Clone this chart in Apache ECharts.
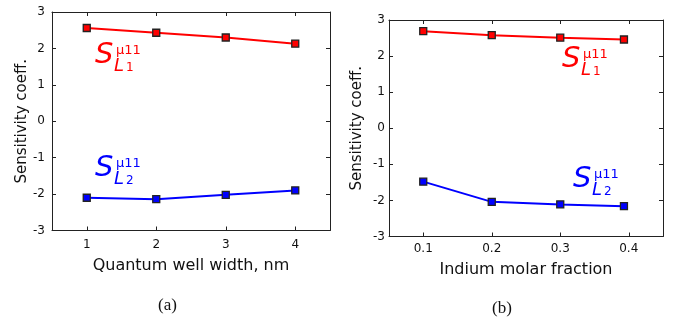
<!DOCTYPE html>
<html>
<head>
<meta charset="utf-8">
<script src="https://cdn.jsdelivr.net/npm/echarts@6/dist/echarts.min.js"></script>
<style>
  html, body { margin: 0; padding: 0; background: #fff; }
  #chart { width: 675px; height: 323px; }
</style>
</head>
<body>
<div id="chart"></div>
<script>
// Panel (a): sensitivity vs quantum well width
const wellWidth = [1, 2, 3, 4];
const wellS_L1 = [2.56, 2.43, 2.30, 2.13];
const wellS_L2 = [-2.10, -2.14, -2.02, -1.90];

// Panel (b): sensitivity vs indium molar fraction
const indiumFraction = [0.1, 0.2, 0.3, 0.393];
const indiumS_L1 = [2.69, 2.58, 2.51, 2.46];
const indiumS_L2 = [-1.48, -2.04, -2.11, -2.16];

// Tick values
const sensTicks = [-3, -2, -1, 0, 1, 2, 3];
const wellTicks = [1, 2, 3, 4];
const indiumTicks = [0.1, 0.2, 0.3, 0.4];

const FONT = '"DejaVu Sans", Verdana, sans-serif';
const AXIS_COLOR = '#222';
const RED = '#ff0000';
const BLUE = '#0000ff';

const chart = echarts.init(document.getElementById('chart'), null, { renderer: 'canvas' });

function xAxisPair(gridIndex, min, max, ticks, name, labelMargin, nameGap, fmt) {
  const common = {
    type: 'value', gridIndex, min, max,
    axisLine: { show: true, onZero: false, lineStyle: { color: AXIS_COLOR, width: 1 } },
    splitLine: { show: false }
  };
  return [
    Object.assign({}, common, {
      position: 'bottom',
      name, nameLocation: 'middle', nameGap,
      nameTextStyle: { fontFamily: FONT, fontSize: 16, color: '#111' },
      axisTick: { show: true, inside: true, length: 4, customValues: ticks, lineStyle: { color: AXIS_COLOR } },
      axisLabel: { show: true, customValues: ticks, margin: labelMargin, fontFamily: FONT, fontSize: 12, color: '#111', formatter: fmt }
    }),
    Object.assign({}, common, {
      position: 'top',
      axisTick: { show: true, inside: true, length: 4, customValues: ticks, lineStyle: { color: AXIS_COLOR } },
      axisLabel: { show: false }
    })
  ];
}

function yAxisPair(gridIndex, labelMargin, nameGap) {
  const common = {
    type: 'value', gridIndex, min: -3, max: 3,
    axisLine: { show: true, onZero: false, lineStyle: { color: AXIS_COLOR, width: 1 } },
    splitLine: { show: false }
  };
  return [
    Object.assign({}, common, {
      position: 'left',
      name: 'Sensitivity coeff.', nameLocation: 'middle', nameGap, nameRotate: 90,
      nameTextStyle: { fontFamily: FONT, fontSize: 15, color: '#111' },
      axisTick: { show: true, inside: true, length: 4, customValues: sensTicks, lineStyle: { color: AXIS_COLOR } },
      axisLabel: { show: true, customValues: sensTicks, margin: labelMargin, fontFamily: FONT, fontSize: 12, color: '#111' }
    }),
    Object.assign({}, common, {
      position: 'right',
      axisTick: { show: true, inside: true, length: 4, customValues: sensTicks, lineStyle: { color: AXIS_COLOR } },
      axisLabel: { show: false }
    })
  ];
}

function lineSeries(xs, ys, color, xi, yi) {
  return {
    type: 'line',
    xAxisIndex: xi, yAxisIndex: yi,
    data: xs.map((x, i) => [x, ys[i]]),
    symbol: 'rect', symbolSize: 7,
    lineStyle: { color, width: 2 },
    itemStyle: { color, borderColor: '#222', borderWidth: 1.3 },
    emphasis: { disabled: true },
    z: 3
  };
}

// S^{mu11}_{L_k} label built from four text pieces
function sensLabel(left, cy, sub, color) {
  const t = (x, y, text, font) => ({
    type: 'text', x, y, silent: true,
    style: { text, font, fill: color, align: 'left', verticalAlign: 'middle' }
  });
  return [
    t(left, cy, 'S', 'italic 29px ' + FONT),
    t(left + 21, cy - 4, 'μ11', '13px ' + FONT),
    t(left + 19, cy + 11, 'L', 'italic 18px ' + FONT),
    t(left + 31, cy + 13, sub, '12px ' + FONT)
  ];
}

const option = {
  animation: false,
  backgroundColor: '#fff',
  grid: [
    { left: 52, top: 12, width: 278, height: 218.5, containLabel: false },
    { left: 389, top: 20, width: 274, height: 216.5, containLabel: false }
  ],
  xAxis: [
    ...xAxisPair(0, 0.5, 4.5, wellTicks, 'Quantum well width, nm', 8, 27, v => String(v)),
    ...xAxisPair(1, 0.05, 0.45, indiumTicks, 'Indium molar fraction', 6, 25, v => v.toFixed(1))
  ],
  yAxis: [
    ...yAxisPair(0, 7, 22),
    ...yAxisPair(1, 4, 24)
  ],
  series: [
    lineSeries(wellWidth, wellS_L1, RED, 0, 0),
    lineSeries(wellWidth, wellS_L2, BLUE, 0, 0),
    lineSeries(indiumFraction, indiumS_L1, RED, 2, 2),
    lineSeries(indiumFraction, indiumS_L2, BLUE, 2, 2)
  ],
  graphic: [
    ...sensLabel(95, 55, '1', RED),
    ...sensLabel(95, 168, '2', BLUE),
    ...sensLabel(562, 59, '1', RED),
    ...sensLabel(573, 179, '2', BLUE),
    { type: 'text', x: 167.5, y: 306, silent: true,
      style: { text: '(a)', font: '17px "Liberation Serif", "Times New Roman", serif', fill: '#111', align: 'center', verticalAlign: 'middle' } },
    { type: 'text', x: 502, y: 309, silent: true,
      style: { text: '(b)', font: '17px "Liberation Serif", "Times New Roman", serif', fill: '#111', align: 'center', verticalAlign: 'middle' } }
  ]
};

chart.setOption(option);
</script>
</body>
</html>
